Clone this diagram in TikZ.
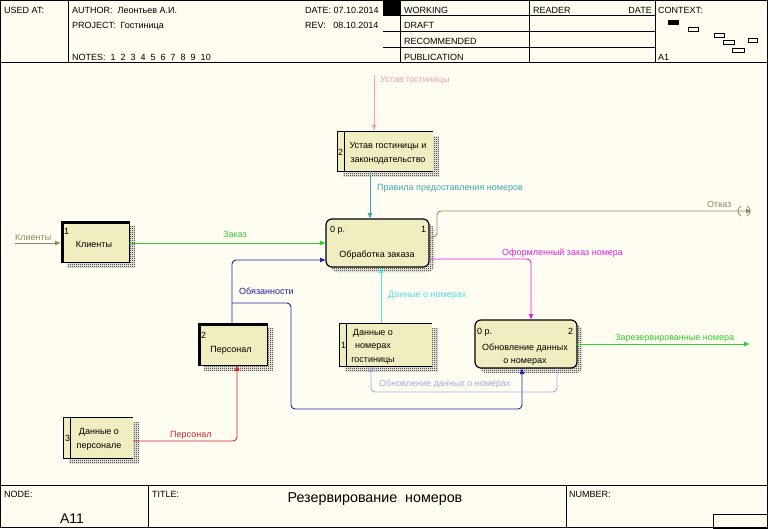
\documentclass[tikz,border=0pt]{standalone}
\usepackage{fontspec}
\setmainfont{Liberation Sans}
\usetikzlibrary{arrows.meta,patterns,calc}
\definecolor{bgc}{HTML}{FFFDF2}
\definecolor{boxc}{HTML}{F0EEC0}
\definecolor{pinkc}{HTML}{F0A0B0}
\definecolor{tealc}{HTML}{40A8B0}
\definecolor{olivec}{HTML}{8C8C60}
\definecolor{greenc}{HTML}{30D030}
\definecolor{bluec}{HTML}{2020A0}
\definecolor{redc}{HTML}{D02828}
\definecolor{cyanc}{HTML}{50E0E8}
\definecolor{magc}{HTML}{E020E0}
\definecolor{lavc}{HTML}{A8A8E0}
\pgfdeclarepatternformonly{checker}{\pgfqpoint{0pt}{0pt}}{\pgfqpoint{2pt}{2pt}}{\pgfqpoint{2pt}{2pt}}{%
\pgfpathrectangle{\pgfqpoint{0pt}{0pt}}{\pgfqpoint{1pt}{1pt}}%
\pgfpathrectangle{\pgfqpoint{1pt}{1pt}}{\pgfqpoint{1pt}{1pt}}%
\pgfusepath{fill}}
\pgfdeclarelayer{back}
\pgfdeclarelayer{shad}
\pgfsetlayers{back,shad,main}
\tikzset{
  box/.style={fill=boxc, inner sep=0pt, outer sep=0pt},
  procbox/.style={box, draw, line width=1.2pt, rounded corners=6pt},
  entbox/.style={box, draw, line width=1pt},
  lbl/.style={font=\fontsize{9}{10}\selectfont, inner sep=0pt, anchor=base west},
  txt/.style={font=\fontsize{9}{10}\selectfont, inner sep=0pt, anchor=base},
  txtl/.style={font=\fontsize{9}{10}\selectfont, inner sep=0pt, anchor=base west},
  hdr/.style={font=\fontsize{9}{10}\selectfont, inner sep=0pt, anchor=base west},
  flow/.style={line width=0.9pt, rounded corners=4pt},
  tip/.style={-{Latex[length=6pt,width=5pt]}},
  frame/.style={line width=1pt},
  shadowfill/.style={pattern=checker, pattern color=black},
}
\begin{document}
\begin{tikzpicture}[x=1pt,y=-1pt]
\useasboundingbox (0,0) rectangle (768,528);
\begin{pgfonlayer}{back}
\fill[bgc] (0,0) rectangle (768,528);
\end{pgfonlayer}

% ---------- frame / header ----------
\draw[frame] (0.5,0.5) rectangle (767.5,527.5);
\draw[frame] (0,62) -- (768,62);
\draw[frame] (68,0) -- (68,62);
\draw[frame] (400,0) -- (400,62);
\draw[frame] (529,0) -- (529,62);
\draw[frame] (655,0) -- (655,62);
\fill (383,0) rectangle (400,15);
\foreach \yy in {15,31,47} \draw[line width=0.8pt] (383,\yy) -- (655,\yy);

\node[hdr] (usedat) at (4,13) {USED AT:};
\node[hdr] (author) at (72,13) {AUTHOR:\ \ Леонтьев А.И.};
\node[hdr] (project) at (72,28) {PROJECT:\ \ Гостиница};
\node[hdr] (notes) at (72,60) {NOTES:\ \ 1\ \ 2\ \ 3\ \ 4\ \ 5\ \ 6\ \ 7\ \ 8\ \ 9\ \ 10};
\node[hdr] (date) at (305,13) {DATE: 07.10.2014};
\node[hdr] (rev) at (305,28) {REV:\ \ \ 08.10.2014};
\node[hdr] (working) at (404,13) {WORKING};
\node[hdr] (draft) at (404,28) {DRAFT};
\node[hdr] (recom) at (404,44) {RECOMMENDED};
\node[hdr] (publ) at (404,60) {PUBLICATION};
\node[hdr] (reader) at (533,13) {READER};
\node[hdr, anchor=base east] (rdate) at (652,13) {DATE};
\node[hdr] (context) at (658,13) {CONTEXT:};
\node[hdr] (aone) at (658,60) {A1};
\fill (668,20) rectangle (679,25);
\draw[line width=0.7pt] (688,27) rectangle (698,31);
\draw[line width=0.7pt] (714,33) rectangle (724,37);
\draw[line width=0.7pt] (723,40) rectangle (734,44);
\draw[line width=0.7pt] (748,38) rectangle (757,42);
\draw[line width=0.7pt] (732,48) rectangle (744,52);

% ---------- bottom ----------
\draw[frame] (0,485) -- (768,485);
\draw[frame] (148,485) -- (148,528);
\draw[frame] (566,485) -- (566,528);
\draw[frame] (713,514) rectangle (768,528);
\node[hdr] (nodelbl) at (4,497) {NODE:};
\node[font=\fontsize{14}{16}\selectfont, inner sep=0pt, anchor=base] (nodeval) at (72,523) {A11};
\node[hdr] (titlelbl) at (152,497) {TITLE:};
\node[font=\fontsize{14.3}{17}\selectfont, inner sep=0pt, anchor=base] (title) at (375,502) {Резервирование\ \ номеров};
\node[hdr] (numlbl) at (569,497) {NUMBER:};

% ---------- boxes ----------
\node[procbox, minimum width=103pt, minimum height=48pt] (p1) at (377.5,243) {};
\node[procbox, minimum width=102pt, minimum height=48pt] (p2) at (526,344) {};
\node[entbox, minimum width=68pt, minimum height=41pt] (e1) at (95,241.5) {};
\node[entbox, minimum width=69pt, minimum height=42pt] (e2) at (232.5,344) {};
\node[box, minimum width=96pt, minimum height=40pt] (d2) at (385,151) {};
\node[box, minimum width=93pt, minimum height=43pt] (d1) at (385.5,344.5) {};
\node[box, minimum width=70pt, minimum height=41pt] (d3) at (98,437.5) {};

\begin{pgfonlayer}{shad}
\fill[shadowfill, rounded corners=6pt] ($(p1.south west)+(5,5)$) rectangle ($(p1.north east)+(5,5)$);
\fill[shadowfill, rounded corners=6pt] ($(p2.south west)+(5,5)$) rectangle ($(p2.north east)+(5,5)$);
\foreach \n in {e1,e2,d1,d2,d3}
  \fill[shadowfill] ($(\n.south west)+(6,5)$) rectangle ($(\n.north east)+(6,5)$);
\end{pgfonlayer}

% thick entity borders
\foreach \n in {e1,e2}
  \draw[line width=3pt] ($(\n.south west)+(1,0)$) -- ($(\n.north west)+(1,1)$) -- ($(\n.north east)+(0,1)$);

% data store borders
\foreach \n in {d1,d2,d3} {
  \draw[line width=1pt] (\n.north east) -- (\n.north west) -- (\n.south west) -- (\n.south east);
  \draw[line width=1pt] ($(\n.north west)+(7,0)$) -- ($(\n.south west)+(7,0)$);
}

% ---------- box texts ----------
\node[txtl] (p1a) at (330,232) {0 р.};
\node[txtl] (p1b) at (421,232) {1};
\node[txt] (p1c) at (377,257) {Обработка заказа};
\node[txtl] (p2a) at (477,334) {0 р.};
\node[txtl] (p2b) at (568,334) {2};
\node[txt] (p2c) at (525,350) {Обновление данных};
\node[txt] (p2d) at (525,363) {о номерах};
\node[txtl] (e1a) at (64,234) {1};
\node[txt] (e1b) at (94,247) {Клиенты};
\node[txtl] (e2a) at (201,338) {2};
\node[txt] (e2b) at (231,352) {Персонал};
\node[txtl] (d2a) at (338,155) {2};
\node[txt] (d2b) at (388,148) {Устав гостиницы и};
\node[txt] (d2c) at (388,162) {законодательство};
\node[txtl] (d1a) at (341,348) {1};
\node[txt] (d1b) at (373,335) {Данные о};
\node[txt] (d1c) at (373,348) {номерах};
\node[txt] (d1d) at (373,362) {гостиницы};
\node[txtl] (d3a) at (65,441) {3};
\node[txt] (d3b) at (99,434) {Данные о};
\node[txt] (d3c) at (99,448) {персонале};

% ---------- connectors ----------
\coordinate (ustin) at (374,75);
\draw[flow, pinkc, tip] (ustin) -- (ustin |- d2.north);
\node[lbl, text=pinkc] (ustl) at (380,82) {Устав гостиницы};

\coordinate (prx) at (370,0);
\draw[flow, tealc, tip] (d2.south -| prx) -- (p1.north -| prx);
\node[lbl, text=tealc] (prl) at (377,190) {Правила предоставления номеров};

\coordinate (kin) at (15,243);
\draw[flow, olivec, tip] (kin) -- (kin -| e1.west);
\node[lbl, text=olivec] (kinl) at (15,240) {Клиенты};

\draw[flow, greenc, tip] (e1.east |- kin) -- (p1.west |- kin);
\node[lbl, text=greenc] (zakl) at (223,237) {Заказ};

\coordinate (obx) at (232,260);
\draw[flow, bluec, tip] (e2.north -| obx) -- (obx) -- (p1.west |- obx);
\coordinate (br1) at (232,303);
\coordinate (br2) at (291,409);
\coordinate (br3) at (522,409);
\draw[flow, bluec, tip] (br1) -- (br1 -| br2) -- (br2) -- (br3) -- (br3 |- p2.south);
\node[lbl, text=bluec] (obl) at (239,294) {Обязанности};

\coordinate (rp) at (237,441);
\draw[flow, redc, tip] (d3.east |- rp) -- (rp) -- (rp |- e2.south);
\node[lbl, text=redc] (perl) at (170,437) {Персонал};

\coordinate (cx) at (381,0);
\draw[flow, cyanc, tip] (d1.north -| cx) -- (p1.south -| cx);
\node[lbl, text=cyanc] (dnl) at (388,297) {Данные о номерах};

\coordinate (mg) at (531,259);
\draw[flow, magc, tip] (p1.east |- mg) -- (mg) -- (mg |- p2.north);
\node[lbl, text=magc] (ofl) at (502,255) {Оформленный заказ номера};

\coordinate (ot1) at (437,237);
\coordinate (ot2) at (437,211);
\coordinate (otend) at (752,211);
\draw[flow, olivec, tip] (p1.east |- ot1) -- (ot1) -- (ot2) -- (otend);
\draw[olivec, line width=0.8pt] (741,206) .. controls (737,208) and (737,214) .. (741,216);
\draw[olivec, line width=0.8pt] (747,206) .. controls (751,208) and (751,214) .. (747,216);
\node[lbl, text=olivec] (otl) at (707,207) {Отказ};

\coordinate (zr) at (750,344);
\draw[flow, greenc, tip] (p2.east |- zr) -- (zr);
\node[lbl, text=greenc] (zrl) at (615,340) {Зарезервированные номера};

\coordinate (lv1) at (557,392);
\coordinate (lv2) at (371,392);
\draw[flow, lavc, tip] (p2.south -| lv1) -- (lv1) -- (lv2) -- (lv2 |- d1.south);
\node[lbl, text=lavc] (lvl) at (379,386) {Обновление данных о номерах};
\end{tikzpicture}
\end{document}
